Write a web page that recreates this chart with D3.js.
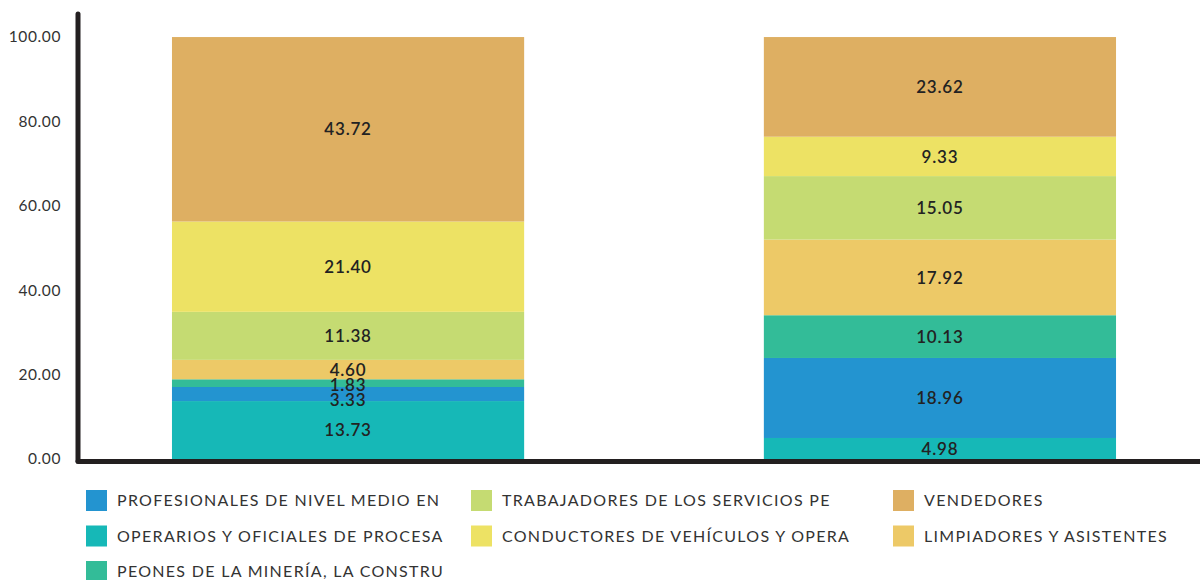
<!DOCTYPE html>
<html>
<head>
<meta charset="utf-8">
<script src="https://cdn.jsdelivr.net/npm/d3@7"></script>
<style>
  body { margin: 0; background: #fff; }
  svg { display: block; font-family: "Lato", "Open Sans", sans-serif; }
</style>
</head>
<body>
<svg></svg>
<script>
var width = 1200;
var height = 580;

// two stacked columns (no category labels in the picture)
var groups = ["A", "B"];

// series, bottom of the stack first
var series = ["OPERARIOS Y OFICIALES DE PROCESA",
              "PROFESIONALES DE NIVEL MEDIO EN",
              "PEONES DE LA MINERÍA, LA CONSTRU",
              "LIMPIADORES Y ASISTENTES",
              "TRABAJADORES DE LOS SERVICIOS PE",
              "CONDUCTORES DE VEHÍCULOS Y OPERA",
              "VENDEDORES"];
var colors = ["#16b8b7", "#2394d0", "#33bc98", "#edc967", "#c5db72", "#ede264", "#deaf62"];

var valuesA = [13.73, 3.33, 1.83, 4.60, 11.38, 21.40, 43.72];
var valuesB = [4.98, 18.96, 10.13, 17.92, 15.05, 9.33, 23.62];

var yTicks = [0, 20, 40, 60, 80, 100];

// legend order, row by row
var legendOrder = ["PROFESIONALES DE NIVEL MEDIO EN", "TRABAJADORES DE LOS SERVICIOS PE", "VENDEDORES",
                   "OPERARIOS Y OFICIALES DE PROCESA", "CONDUCTORES DE VEHÍCULOS Y OPERA", "LIMPIADORES Y ASISTENTES",
                   "PEONES DE LA MINERÍA, LA CONSTRU"];

var table = groups.map(function(g, i) {
	var row = {group: g};
	var vals = i === 0 ? valuesA : valuesB;
	series.forEach(function(s, j) { row[s] = vals[j]; });
	return row;
});

var svg = d3.select('svg')
	.attr('width', width)
	.attr('height', height);

var x = d3.scaleBand()
	.domain(groups)
	.range([52, 1236])
	.paddingInner(0.405)
	.paddingOuter(0.2027);

var y = d3.scaleLinear()
	.domain([0, 100])
	.range([459, 37]);

var color = d3.scaleOrdinal()
	.domain(series)
	.range(colors);

var stacked = d3.stack().keys(series)(table);

// bars
var layers = svg.append('g')
	.selectAll('g')
	.data(stacked)
	.enter()
	.append('g')
		.attr('fill', d => color(d.key));

layers.selectAll('rect')
	.data(d => d)
	.enter()
	.append('rect')
		.attr('x', d => x(d.data.group))
		.attr('width', x.bandwidth())
		.attr('y', d => y(d[1]))
		.attr('height', d => y(d[0]) - y(d[1]));

// value labels, pushed apart when segments are thin
groups.forEach(function(g, gi) {
	var labels = stacked.map(function(layer) {
		var d = layer[gi];
		return {value: d[1] - d[0], y: y((d[0] + d[1]) / 2)};
	}).reverse();
	for (var i = 1; i < labels.length; i++) {
		if (labels[i].y - labels[i - 1].y < 15) labels[i].y = labels[i - 1].y + 15;
	}
	svg.append('g')
		.selectAll('text')
		.data(labels)
		.enter()
		.append('text')
			.attr('x', x(g) + x.bandwidth() / 2)
			.attr('y', d => d.y)
			.attr('dy', '0.36em')
			.attr('text-anchor', 'middle')
			.attr('font-size', 17)
			.attr('font-weight', 600)
			.attr('letter-spacing', 0.8)
			.attr('fill', '#222')
			.text(d => d.value.toFixed(2));
});

// y axis
var yAxis = svg.append('g')
	.attr('transform', 'translate(78,0)')
	.call(d3.axisLeft(y).tickValues(yTicks).tickSize(0).tickPadding(17).tickFormat(d3.format('.2f')));
yAxis.select('.domain').remove();
yAxis.selectAll('text')
	.attr('font-size', 15.5)
	.attr('letter-spacing', 0.6)
	.attr('font-family', 'Lato, sans-serif')
	.attr('fill', '#333');

svg.append('line')
	.attr('x1', 78).attr('x2', 78)
	.attr('y1', 14).attr('y2', 461)
	.attr('stroke', '#231f20')
	.attr('stroke-width', 5)
	.attr('stroke-linecap', 'round');

svg.append('line')
	.attr('x1', 78).attr('x2', 1200)
	.attr('y1', 461.5).attr('y2', 461.5)
	.attr('stroke', '#231f20')
	.attr('stroke-width', 5)
	.attr('stroke-linecap', 'round');

// legend
var legendX = [86, 471, 893];
var legend = svg.append('g')
	.selectAll('g')
	.data(legendOrder)
	.enter()
	.append('g')
		.attr('transform', (d, i) => 'translate(' + legendX[i % 3] + ',' + (490 + Math.floor(i / 3) * 35.5) + ')');

legend.append('rect')
	.attr('width', 21)
	.attr('height', 21)
	.attr('fill', d => color(d));

legend.append('text')
	.attr('x', 31)
	.attr('y', 10.5)
	.attr('dy', '0.36em')
	.attr('font-size', 16)
	.attr('letter-spacing', 1.3)
	.attr('fill', '#333')
	.text(d => d);
</script>
</body>
</html>
